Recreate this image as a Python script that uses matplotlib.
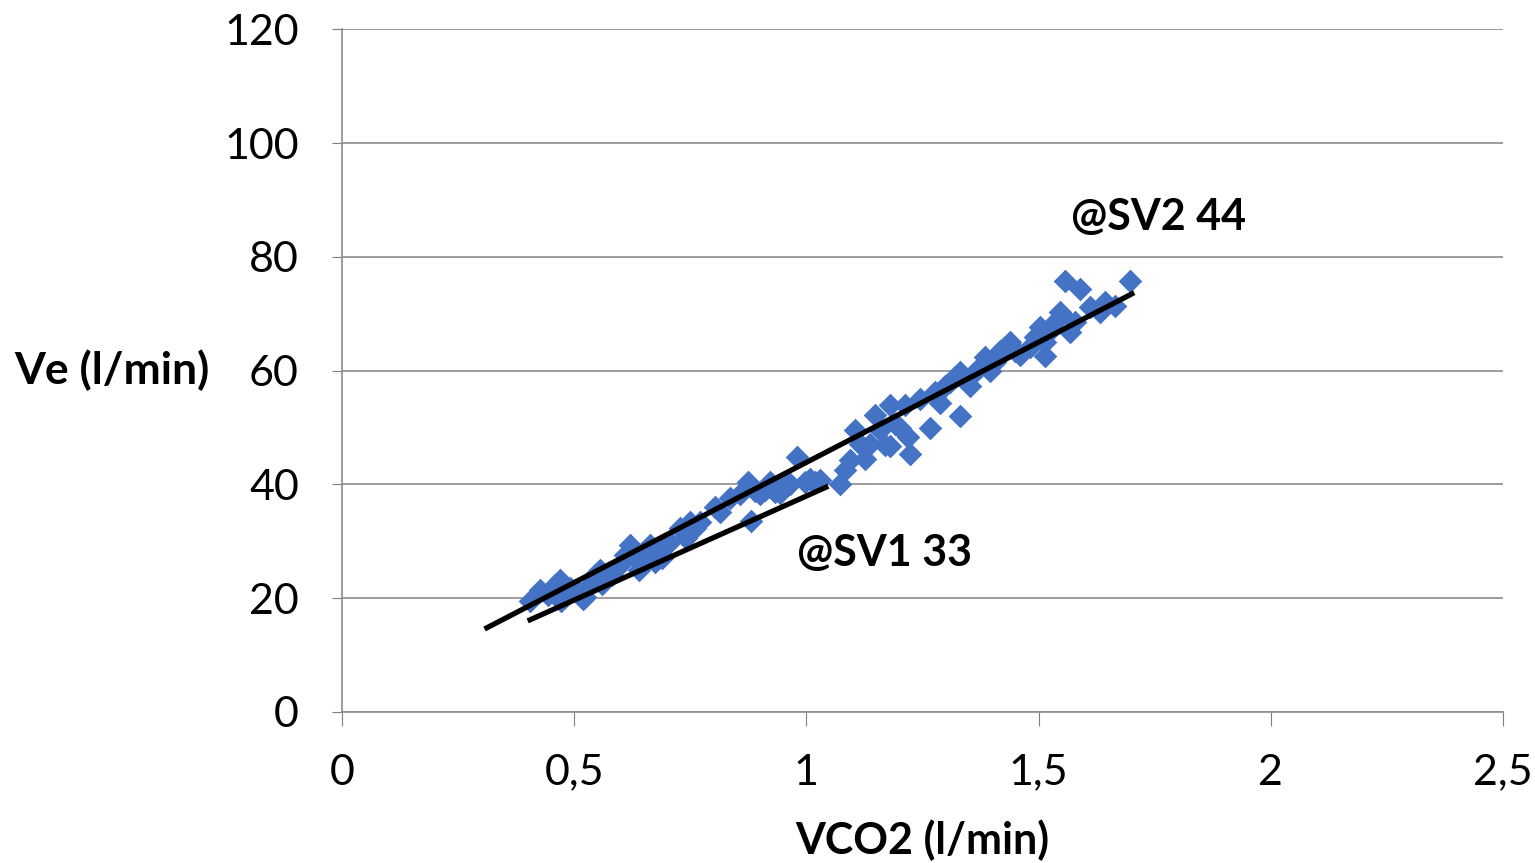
import matplotlib.pyplot as plt
import numpy as np

plt.rcParams['font.family'] = ['Lato', 'DejaVu Sans']

# scatter data (VCO2 l/min, Ve l/min)
vco2 = [0.405, 0.426, 0.443, 0.458, 0.469, 0.480, 0.491, 0.501, 0.512, 0.523,
        0.534, 0.545, 0.555, 0.566, 0.581, 0.599, 0.610, 0.620, 0.631, 0.642,
        0.652, 0.663, 0.674, 0.684, 0.695, 0.706, 0.728, 0.749, 0.760, 0.771,
        0.803, 0.814, 0.836, 0.857, 0.874, 0.889, 0.900, 0.911, 0.922, 0.932,
        0.943, 0.954, 0.965, 0.980, 0.997, 1.008, 1.019, 1.029, 1.072, 1.083,
        1.094, 1.105, 1.115, 1.126, 1.137, 1.148, 1.158, 1.169, 1.180, 1.180,
        1.191, 1.202, 1.212, 1.218, 1.223, 1.245, 1.266, 1.277, 1.288, 1.299,
        1.309, 1.320, 1.331, 1.331, 1.352, 1.363, 1.374, 1.385, 1.395, 1.406,
        1.417, 1.428, 1.438, 1.449, 1.460, 1.481, 1.492, 1.503, 1.514, 1.514,
        1.524, 1.535, 1.546, 1.551, 1.557, 1.568, 1.578, 1.589, 1.611, 1.632,
        1.643, 1.665, 1.697, 0.472, 0.520, 0.560, 0.640, 0.690, 0.740, 0.880]
ve = [19.5, 21.4, 20.6, 22.3, 23.2, 20.2, 21.8, 21.4, 20.9, 20.2,
      22.3, 24.1, 25.0, 23.2, 24.1, 25.8, 27.6, 29.3, 27.6, 26.4,
      27.4, 29.3, 26.4, 27.9, 29.3, 29.9, 32.3, 33.4, 32.3, 33.4,
      36.0, 35.1, 37.6, 38.3, 40.4, 38.8, 38.3, 39.0, 40.4, 38.7,
      38.5, 40.2, 40.0, 44.8, 40.4, 40.9, 40.4, 40.7, 40.0, 42.5,
      44.3, 49.6, 47.1, 44.5, 47.1, 52.2, 49.6, 46.9, 46.7, 53.9,
      50.7, 49.9, 54.0, 48.3, 45.3, 55.0, 50.0, 56.2, 54.4, 57.3,
      58.0, 58.9, 59.8, 52.0, 57.3, 59.8, 60.7, 62.4, 60.0, 61.6,
      63.4, 64.2, 65.1, 63.4, 62.8, 64.2, 66.0, 67.7, 62.5, 65.0,
      67.0, 68.5, 70.3, 69.8, 75.7, 66.8, 68.6, 74.4, 71.2, 70.3,
      72.0, 71.3, 75.7, 19.5, 19.8, 22.5, 25.0, 27.0, 30.5, 33.5]

# trend lines (endpoints)
fit1_x = [0.312, 1.701]
fit1_y = [14.8, 73.5]
fit2_x = [0.405, 1.042]
fit2_y = [16.2, 39.5]

fig = plt.figure(figsize=(15.35, 8.63), dpi=100)
ax = fig.add_axes([0.2228, 0.175, 0.7563, 0.791])

ax.scatter(vco2, ve, marker='D', s=145, color='#4472C4', zorder=3, linewidths=0)
ax.plot(fit1_x, fit1_y, color='black', lw=3.8, zorder=4)
ax.plot(fit2_x, fit2_y, color='black', lw=3.8, zorder=4)

ax.set_xlim(0, 2.5)
ax.set_ylim(0, 120)
ax.set_xticks([0, 0.5, 1, 1.5, 2, 2.5])
ax.set_xticklabels(['0', '0,5', '1', '1,5', '2', '2,5'])
ax.set_yticks([0, 20, 40, 60, 80, 100, 120])
ax.tick_params(axis='both', labelsize=31, colors='#7f7f7f', labelcolor='black')
ax.tick_params(axis='x', length=10, pad=20)
ax.tick_params(axis='y', length=7, pad=24)

ax.grid(axis='y', color='#8c8c8c', lw=1.2)
ax.set_axisbelow(True)
for s in ['top', 'right']:
    ax.spines[s].set_visible(False)
for s in ['left', 'bottom']:
    ax.spines[s].set_color('#8c8c8c')
    ax.spines[s].set_linewidth(1.2)

ax.set_xlabel('VCO2 (l/min)', fontsize=31, fontweight='bold', labelpad=20)
ax.set_ylabel('Ve (l/min)', fontsize=32, fontweight='bold', rotation=0, va='center')
ax.yaxis.set_label_coords(-0.198, 0.5)

ax.text(1.57, 87, '@SV2 44', fontsize=31, fontweight='bold', va='center')
ax.text(0.98, 28, '@SV1 33', fontsize=31, fontweight='bold', va='center')

fig.savefig('out.png', dpi=100)
